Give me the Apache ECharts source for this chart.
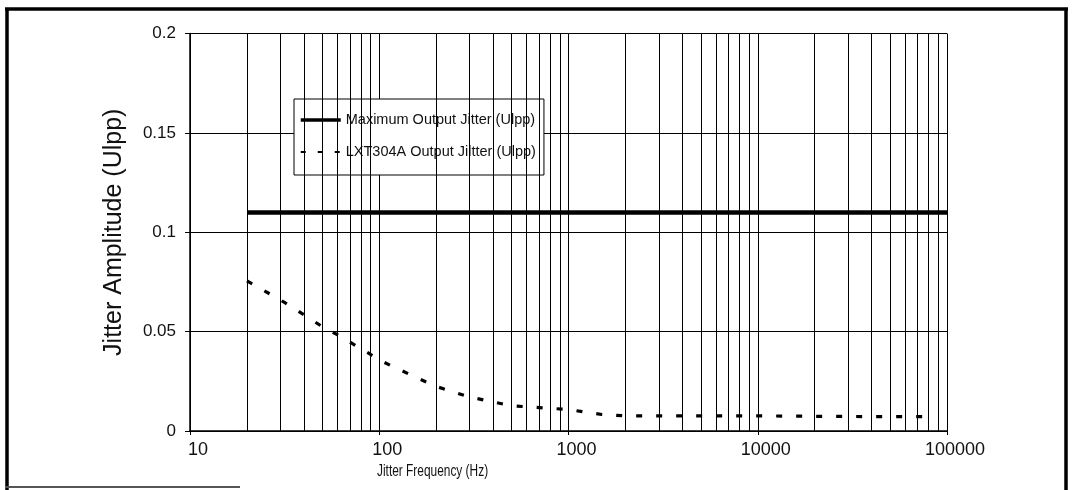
<!DOCTYPE html>
<html>
<head>
<meta charset="utf-8">
<style>
  html, body { margin: 0; padding: 0; background: #fff; }
  #chart { width: 1073px; height: 490px; }
</style>
<script src="https://cdn.jsdelivr.net/npm/echarts@6.0.0/dist/echarts.min.js"></script>
</head>
<body>
<div id="chart"></div>
<script>
// ---- data ----
const seriesNames = ['Maximum Output Jitter (Ulpp)', 'LXT304A Output Jiltter (Ulpp)'];
const freqMax = [20, 100000];
const maxJitter = [0.11, 0.11];
const freqLxt = [20, 30, 40, 50, 60, 70, 80, 90, 100, 150, 200, 300, 400, 500, 700, 1000, 1500, 2000, 5000, 10000, 20000, 50000, 80000];
const lxtJitter = [0.0755, 0.066, 0.0585, 0.0525, 0.0485, 0.0447, 0.0414, 0.0385, 0.0357, 0.0278, 0.0224, 0.0171, 0.0146, 0.0127, 0.0118, 0.0108, 0.0083, 0.0076, 0.0076, 0.0076, 0.0074, 0.0072, 0.0072];
const xTickLabels = ['10', '100', '1000', '10000', '100000'];
const minorGridFreqs = [20, 30, 40, 50, 60, 70, 80, 90,
  200, 300, 400, 500, 600, 700, 800, 900,
  2000, 3000, 4000, 5000, 6000, 7000, 8000, 9000,
  20000, 30000, 40000, 50000, 60000, 70000, 80000, 90000];
const xAxisTitle = 'Jitter Frequency (Hz)';
const yAxisTitle = 'Jitter Amplitude (Ulpp)';

const chart = echarts.init(document.getElementById('chart'), null, { renderer: 'canvas' });
const sans = "'Liberation Sans', Arial, sans-serif";

const option = {
  animation: false,
  backgroundColor: '#fff',
  grid: { left: 190, right: 126, top: 33.5, bottom: 59, containLabel: false },
  legend: {
    orient: 'vertical',
    left: 294, top: 99,
    padding: [12, 8, 14, 5],
    itemGap: 14,
    itemWidth: 40, itemHeight: 18,
    backgroundColor: '#fff',
    borderColor: '#000', borderWidth: 1, borderRadius: 0,
    itemStyle: { color: 'rgba(0,0,0,0)', borderColor: 'rgba(0,0,0,0)', borderWidth: 0 },
    textStyle: { fontFamily: sans, fontSize: 14.5, color: '#111', lineHeight: 18 },
    data: [
      { name: seriesNames[0], lineStyle: { width: 3.5, color: '#000', type: 'solid' } },
      { name: seriesNames[1], lineStyle: { width: 2, color: '#000', type: [5, 12] } }
    ]
  },
  xAxis: {
    type: 'log', logBase: 10, min: 10, max: 100000,
    axisLine: { show: true, lineStyle: { color: '#000', width: 1.5 } },
    axisTick: { show: true, length: 4, lineStyle: { color: '#000' } },
    axisLabel: {
      fontFamily: sans, fontSize: 18, color: '#111', margin: 10,
      padding: [0, 0, 0, 16],
      formatter: function (v) { return xTickLabels[Math.round(Math.log10(v)) - 1]; }
    },
    splitLine: { show: true, lineStyle: { color: '#000', width: 1 } },
    minorTick: { show: false }, minorSplitLine: { show: false }
  },
  yAxis: {
    type: 'value', min: 0, max: 0.2, interval: 0.05,
    name: yAxisTitle, nameLocation: 'middle', nameGap: 63,
    nameTextStyle: { fontFamily: sans, fontSize: 25, color: '#111' },
    axisLine: { show: true, lineStyle: { color: '#000', width: 1.5 } },
    axisTick: { show: true, length: 5, lineStyle: { color: '#000' } },
    axisLabel: { fontFamily: sans, fontSize: 17, color: '#111', margin: 14 },
    splitLine: { show: true, lineStyle: { color: '#000', width: 1 } }
  },
  series: [
    {
      name: seriesNames[0], type: 'line', symbol: 'none',
      data: freqMax.map((f, i) => [f, maxJitter[i]]),
      lineStyle: { color: '#000', width: 4.5, type: 'solid' },
      itemStyle: { color: '#000' },
      z: 5,
      markLine: {
        silent: true, symbol: ['none', 'none'], label: { show: false },
        lineStyle: { color: '#000', width: 1, type: 'solid' },
        emphasis: { disabled: true },
        data: minorGridFreqs.map(f => ({ xAxis: f }))
      }
    },
    {
      name: seriesNames[1], type: 'line', symbol: 'none',
      data: freqLxt.map((f, i) => [f, lxtJitter[i]]),
      lineStyle: { color: '#000', width: 3.2, type: [6, 14] },
      itemStyle: { color: '#000' },
      z: 5
    }
  ],
  graphic: [
    { type: 'text', x: 377, y: 463, scaleX: 0.7, z: 10,
      style: { text: xAxisTitle, font: "17px " + sans, fill: '#111' } },
    // outer frame (partially scanned border)
    { type: 'line', shape: { x1: 5, y1: 9, x2: 1068, y2: 9 }, style: { stroke: '#000', lineWidth: 3.5 } },
    { type: 'line', shape: { x1: 7, y1: 8, x2: 7, y2: 490 }, style: { stroke: '#000', lineWidth: 3.5 } },
    { type: 'line', shape: { x1: 1066, y1: 8, x2: 1066, y2: 490 }, style: { stroke: '#000', lineWidth: 3.5 } },
    { type: 'line', shape: { x1: 5, y1: 487, x2: 240, y2: 487 }, style: { stroke: '#555', lineWidth: 2 } }
  ]
};
chart.setOption(option);
</script>
</body>
</html>
